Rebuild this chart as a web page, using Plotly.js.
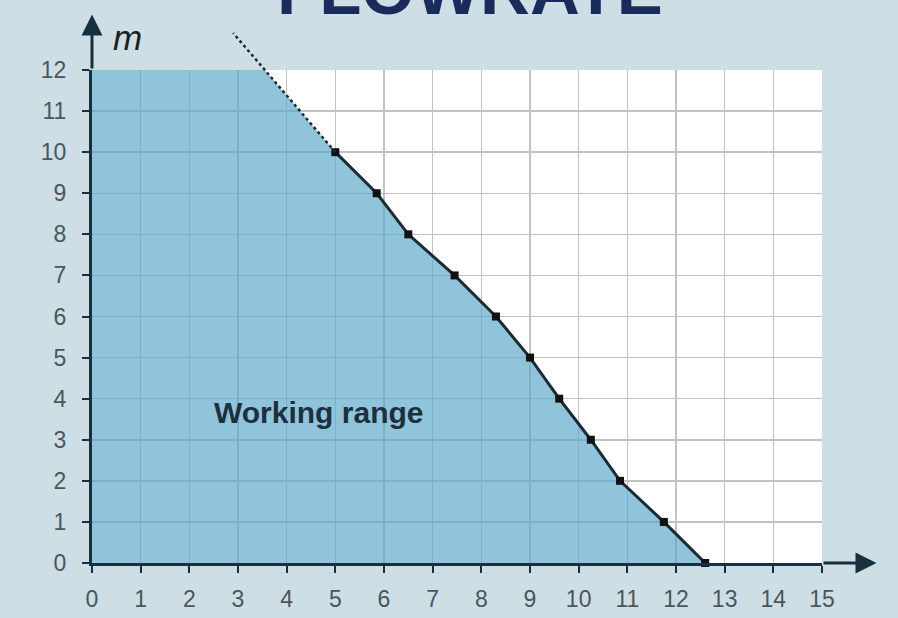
<!DOCTYPE html>
<html>
<head>
<meta charset="utf-8">
<script src="https://cdn.plot.ly/plotly-3.0.1.min.js"></script>
<style>html,body{margin:0;padding:0;background:#cddfe5;}#chart{width:898px;height:618px;}</style>
</head>
<body>
<div id="chart"></div>
<script>
// Data
const flow = [5, 5.85, 6.5, 7.45, 8.3, 9, 9.6, 10.25, 10.85, 11.75, 12.6];   // l/h
const head = [10, 9, 8, 7, 6, 5, 4, 3, 2, 1, 0];                              // m
const fillStartX = [0, 3.55];      // top edge of working range (m = 12)
const fillStartY = [12, 12];
const extX = [5, 2.9];             // dotted extension of the curve
const extY = [10, 12.9];
const xTicks = [0,1,2,3,4,5,6,7,8,9,10,11,12,13,14,15];
const yTicks = [0,1,2,3,4,5,6,7,8,9,10,11,12];
const xLabel = 'l/h', yLabel = 'm', areaLabel = 'Working range', titleText = 'FLOWRATE';

const W = 898, H = 618;
const mL = 92, mR = 76, mT = 10, mB = 55;
const plotH = H - mT - mB;
const unitY = (563 - 70) / 12;
const yDomTop = (12 * unitY) / plotH;
const y2Max = plotH / unitY;

const navy = '#163040';
const font = 'Liberation Sans, Arial, sans-serif';

const traces = [
  {
    x: fillStartX.concat(flow), y: fillStartY.concat(head),
    xaxis: 'x', yaxis: 'y', mode: 'lines', fill: 'tozeroy',
    fillcolor: 'rgba(92,168,200,0.68)', line: {width: 0}, hoverinfo: 'skip'
  },
  {
    x: flow, y: head, xaxis: 'x', yaxis: 'y', mode: 'lines+markers',
    line: {color: '#1b2b33', width: 3},
    marker: {symbol: 'square', size: 8, color: '#111'},
    cliponaxis: false
  },
  {
    x: extX, y: extY, xaxis: 'x2', yaxis: 'y2', mode: 'lines',
    line: {color: '#1b2b33', width: 2.5, dash: 'dot'}
  }
];

const axisCommon = {
  showgrid: true, gridcolor: '#bfc3c6', gridwidth: 1.5,
  showline: true, linecolor: navy, linewidth: 3,
  ticks: 'outside', ticklen: 7, tickwidth: 2, tickcolor: navy,
  zeroline: false, fixedrange: true,
  tickfont: {family: font, size: 23, color: '#4a565c'}
};

const layout = {
  width: W, height: H,
  margin: {l: mL, r: mR, t: mT, b: mB, pad: 0},
  paper_bgcolor: '#cddfe5',
  plot_bgcolor: 'rgba(0,0,0,0)',
  showlegend: false,
  xaxis: Object.assign({}, axisCommon, {
    domain: [0, 1], range: [0, 15], anchor: 'y',
    tickmode: 'array', tickvals: xTicks, ticktext: xTicks.map(String),
    ticklabelstandoff: 6
  }),
  yaxis: Object.assign({}, axisCommon, {
    domain: [0, yDomTop], range: [0, 12], anchor: 'x',
    tickmode: 'array', tickvals: yTicks, ticktext: yTicks.map(String),
    ticklabelstandoff: 11
  }),
  xaxis2: {domain: [0, 1], range: [0, 15], anchor: 'y2', visible: false, fixedrange: true},
  yaxis2: {domain: [0, 1], range: [0, y2Max], anchor: 'x2', visible: false, fixedrange: true},
  shapes: [
    {type: 'rect', xref: 'x domain', yref: 'y domain', x0: 0, x1: 1, y0: 0, y1: 1,
     fillcolor: '#ffffff', line: {width: 0}, layer: 'below'}
  ],
  annotations: [
    {text: '<b>' + titleText + '</b>', xref: 'paper', yref: 'paper', x: 0.518, y: 0.962,
     xanchor: 'center', yanchor: 'bottom', showarrow: false,
     font: {family: font, size: 69, color: '#1b2a5c'}},
    {text: '', xref: 'x2', yref: 'y2', x: 0, y: 13.35, axref: 'x2', ayref: 'y2', ax: 0, ay: 12,
     showarrow: true, arrowhead: 2, arrowsize: 1.4, arrowwidth: 3, arrowcolor: navy, standoff: 0},
    {text: '', xref: 'x2', yref: 'y2', x: 16.12, y: 0, axref: 'x2', ayref: 'y2', ax: 15, ay: 0,
     showarrow: true, arrowhead: 2, arrowsize: 1.4, arrowwidth: 3, arrowcolor: navy, standoff: 0},
    {text: '<i>' + yLabel + '</i>', xref: 'x2', yref: 'y2', x: 0.72, y: 12.78,
     xanchor: 'center', yanchor: 'middle', showarrow: false,
     font: {family: font, size: 35, color: '#1a1f24'}},
    {text: '<i>' + xLabel + '</i>', xref: 'x2', yref: 'y2', x: 15.62, y: 0.78,
     xanchor: 'center', yanchor: 'middle', showarrow: false,
     font: {family: font, size: 32, color: '#1a1f24'}},
    {text: '<b>' + areaLabel + '</b>', xref: 'x', yref: 'y', x: 4.65, y: 3.67,
     xanchor: 'center', yanchor: 'middle', showarrow: false,
     font: {family: font, size: 30, color: '#1c3040'}}
  ]
};

Plotly.newPlot('chart', traces, layout, {staticPlot: true, displayModeBar: false});
</script>
</body>
</html>
